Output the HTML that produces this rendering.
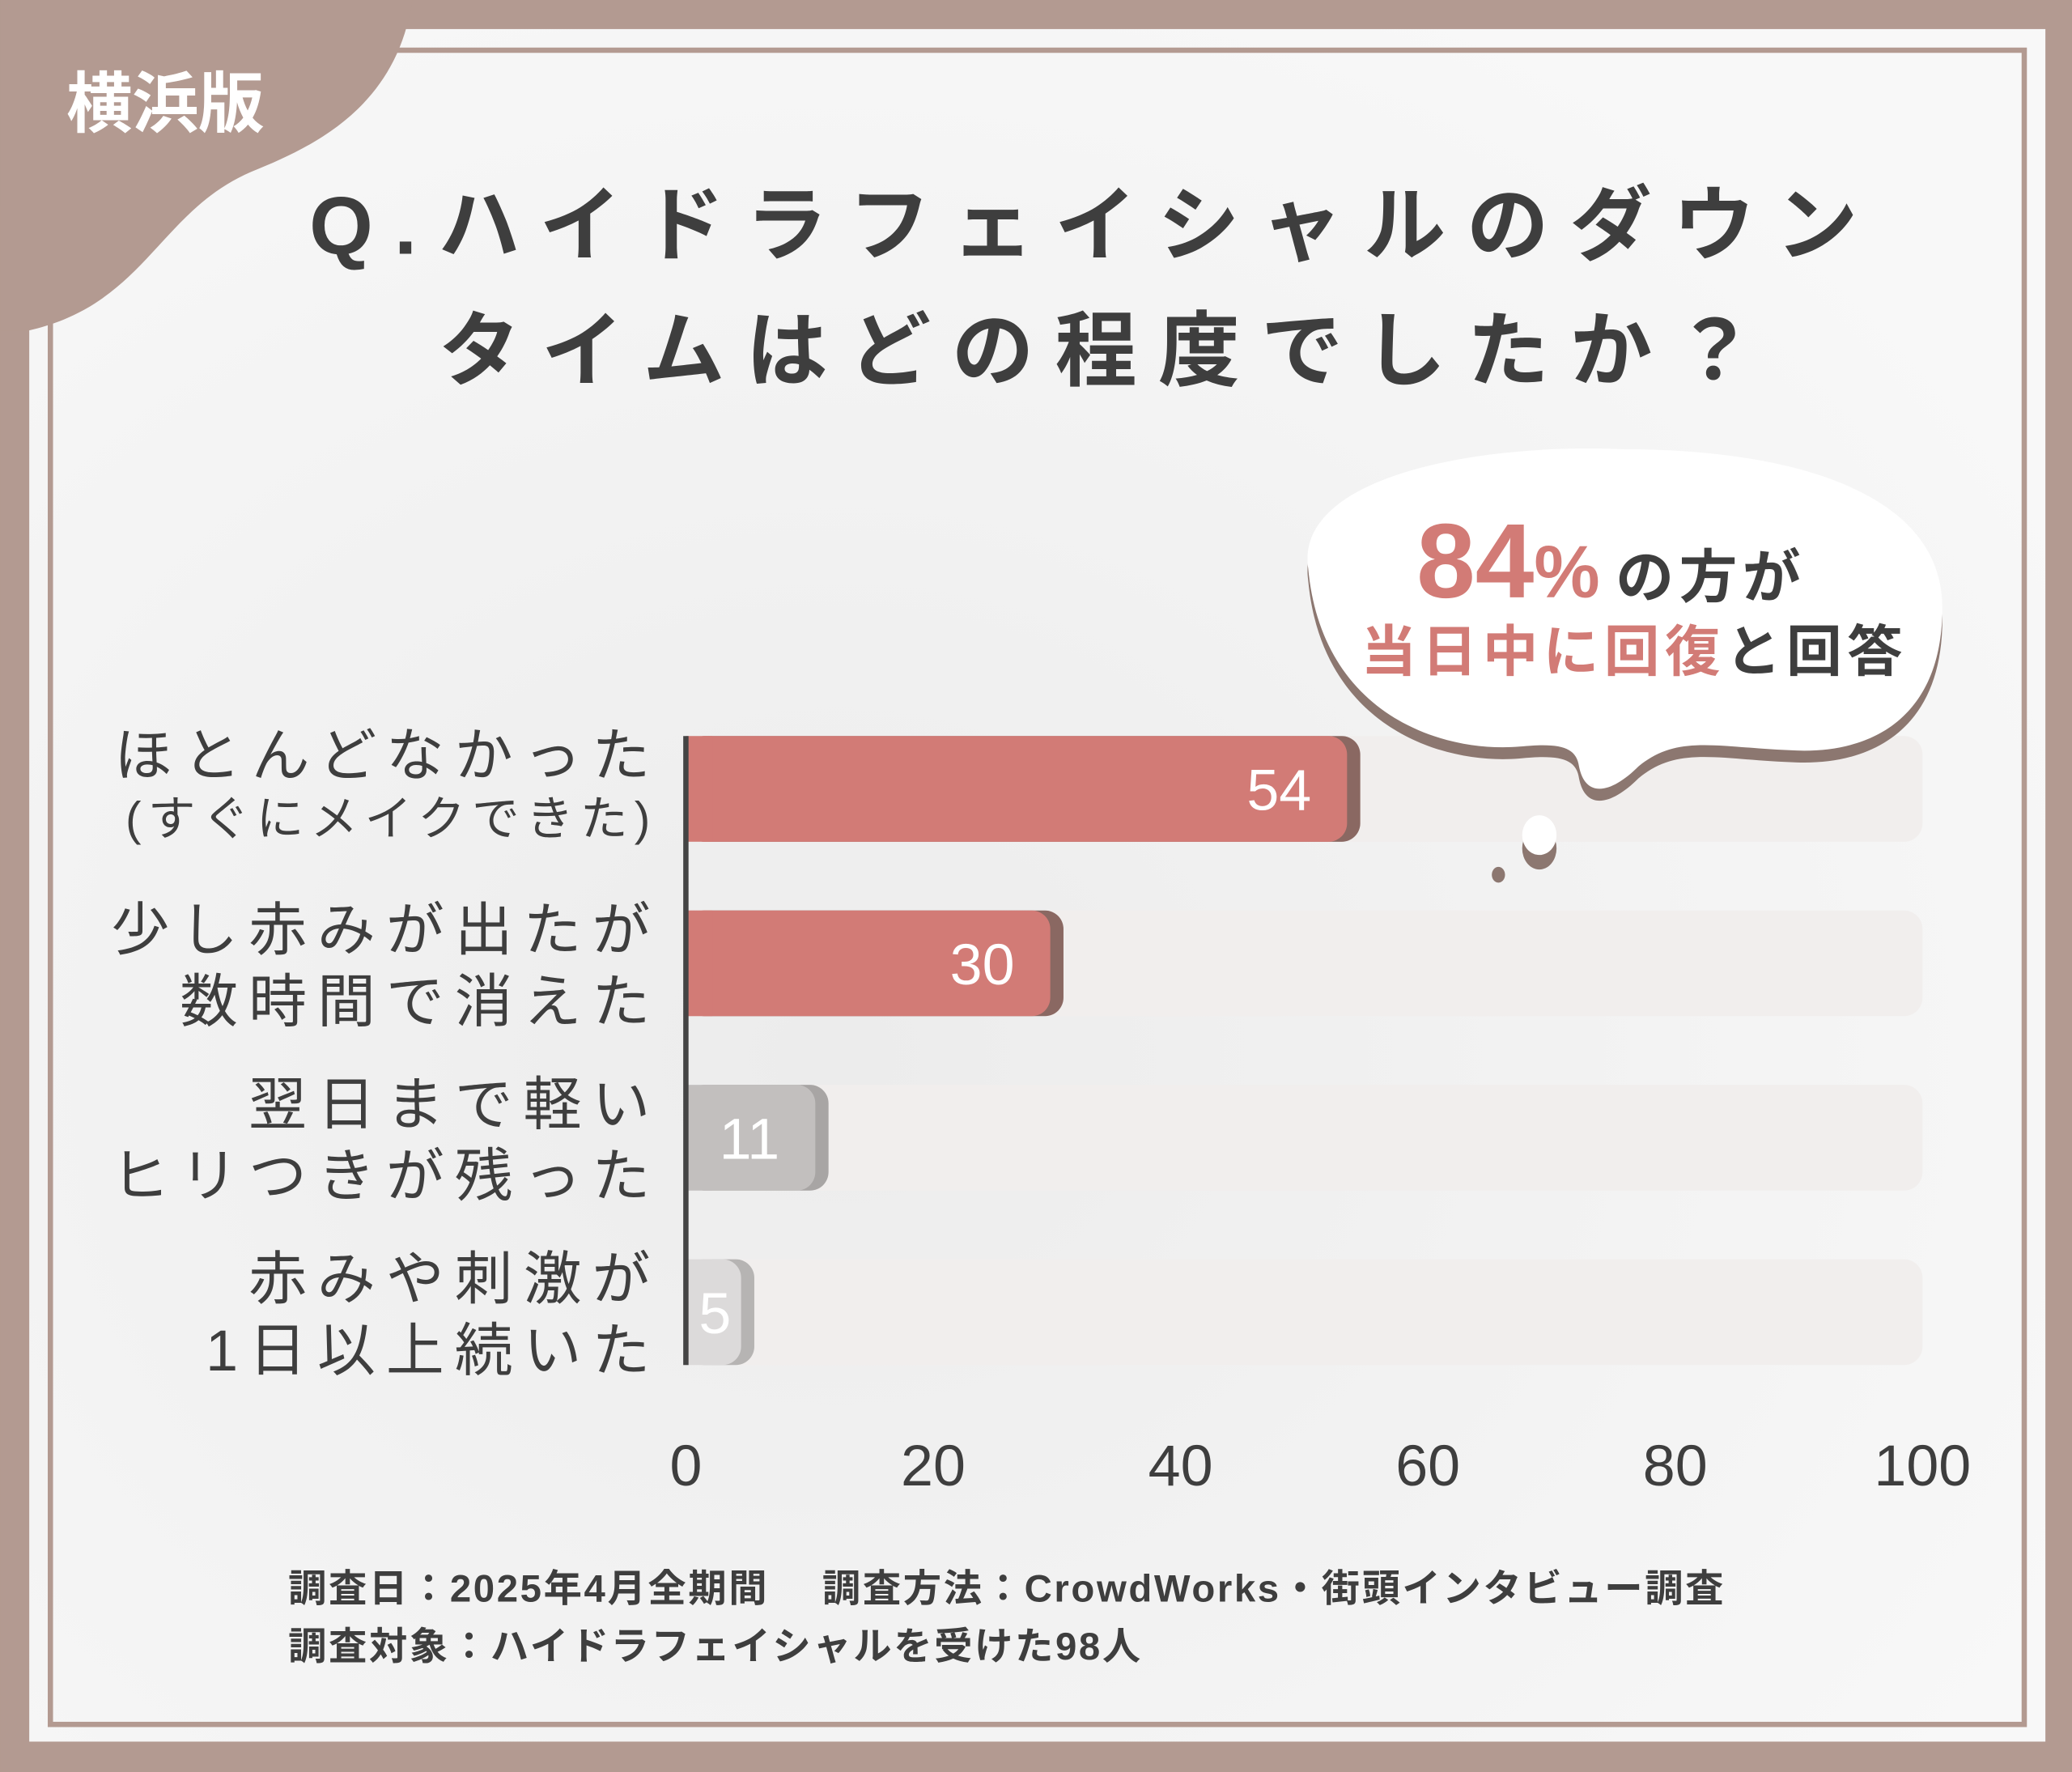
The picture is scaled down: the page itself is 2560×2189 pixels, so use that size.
<!DOCTYPE html>
<html><head><meta charset="utf-8"><style>
html,body{margin:0;padding:0;background:#b39a91;}
svg{display:block;}
text{font-family:"Liberation Sans","Noto Sans CJK JP",sans-serif;}
</style></head><body>
<svg width="2560" height="2189" viewBox="0 0 1568 1341" xmlns="http://www.w3.org/2000/svg">
<defs>
<radialGradient id="bg" cx="0.4" cy="0.6" r="0.7"><stop offset="0" stop-color="#ececec"/><stop offset="1" stop-color="#f8f8f8"/></radialGradient>
</defs>
<rect x="0" y="0" width="1568" height="1341" fill="#b39a91"/>
<rect x="22" y="22" width="1526" height="1296" fill="url(#bg)"/>
<rect x="38" y="38" width="1494" height="1267" fill="none" stroke="#b39a91" stroke-width="4"/>
<path d="M0 0 H312 C300 80 240 110 190 130 C120 160 110 230 22 250 H0 Z" fill="#b39a91"/>
<text x="125" y="96" font-size="50" font-weight="bold" fill="#fff" text-anchor="middle">横浜版</text>
<text x="828" y="192" font-size="62" font-weight="bold" fill="#3e3e3e" text-anchor="middle" letter-spacing="16">Q.ハイドラフェイシャルのダウン</text>
<text x="838" y="287" font-size="62" font-weight="bold" fill="#3e3e3e" text-anchor="middle" letter-spacing="16">タイムはどの程度でしたか？</text>
<g id="chart"></g>
<g>
<path transform="translate(0,9)" d="M990 430 C980 360 1120 335 1230 340 C1350 340 1470 370 1470 460 C1470 540 1420 570 1360 568 C1300 566 1270 555 1240 580 C1220 600 1200 605 1195 580 C1193 565 1180 562 1150 565 C1090 570 1000 540 990 430 Z" fill="#8c7770"/>
<path d="M990 430 C980 360 1120 335 1230 340 C1350 340 1470 370 1470 460 C1470 540 1420 570 1360 568 C1300 566 1270 555 1240 580 C1220 600 1200 605 1195 580 C1193 565 1180 562 1150 565 C1090 570 1000 540 990 430 Z" fill="#fff"/>
<ellipse cx="1165" cy="642" rx="13" ry="16" fill="#8c7770"/>
<ellipse cx="1165" cy="632" rx="13" ry="15" fill="#fff"/>
<ellipse cx="1134" cy="662" rx="5" ry="6" fill="#8c7770"/>
</g>
<text x="1072" y="452" font-size="80" font-weight="bold" fill="#d27b76">84<tspan font-size="56">%</tspan><tspan font-size="44" fill="#3e3e3e" dx="12" letter-spacing="4">の方が</tspan></text>
<text x="1030" y="508" font-size="42" font-weight="bold" fill="#d27b76" letter-spacing="4">当日中に回復<tspan fill="#3e3e3e">と回答</tspan></text>
<text x="218" y="1212" font-size="29" font-weight="bold" fill="#3e3e3e" letter-spacing="1.6">調査日：2025年4月全期間　 調査方法：CrowdWorks・街頭インタビュー調査</text>
<text x="218" y="1256" font-size="29" font-weight="bold" fill="#3e3e3e" letter-spacing="1.6">調査対象：ハイドラフェイシャルを受けた98人</text>
<script>
const categories1 = ["ほとんどなかった","少し赤みが出たが","翌日まで軽い","赤みや刺激が"];
const categories2 = ["(すぐにメイクできた)","数時間で消えた","ヒリつきが残った","1日以上続いた"];
const values = [54, 30, 11, 5];
const ticks = [0, 20, 40, 60, 80, 100];
const NS="http://www.w3.org/2000/svg";
const g=document.getElementById('chart');
const x0=519,x1=1455,rowTop=557,rowStep=132,barH=80;
const xs=v=>x0+(v/100)*(x1-x0);
const fills=["#d27b76","#d27b76","#c2bfbe","#dcdada"];
const shades=["#8a6862","#8a6862","#a8a5a4","#b6b4b3"];
function mk(tag,attrs){const e=document.createElementNS(NS,tag);for(const k in attrs)e.setAttribute(k,attrs[k]);g.appendChild(e);return e;}
values.forEach((v,i)=>{
 const y=rowTop+i*rowStep;
 const tr=mk('rect',{x:x0,y:y,width:x1-x0,height:barH,rx:14,fill:'#f1eeed'});
 
 
 const sh=mk('rect',{x:x0,y:y,width:Math.max(xs(v)+5-x0,10),height:barH,rx:14,fill:shades[i]});
 
 
 const b=mk('rect',{x:x0,y:y,width:Math.max(xs(v)-5-x0,6),height:barH,rx:14,fill:fills[i]});
 
 
 const fl=mk('rect',{x:x0,y:y,width:Math.min(20,Math.max(xs(v)-5-x0,6)),height:barH,fill:fills[i]});
 
 
 const vl=mk('text',{x:v<8?x0+22:xs(v)-32,y:y+56,'font-size':44,fill:'#fff','text-anchor':v<8?'middle':'end'});
 vl.textContent=v;
 
 
 const c1=mk('text',{x:500,y:y+30,'font-size':44,fill:'#3e3e3e','text-anchor':'end','letter-spacing':8});
 c1.textContent=categories1[i];
 
 
 const c2=mk('text',{x:i==0?497:500,y:y+(i==0?75:84),'font-size':i==0?36:44,fill:'#3e3e3e','text-anchor':'end','letter-spacing':i==0?5:8});
 c2.textContent=categories2[i];
 
 
});
const ax=mk('line',{x1:x0,y1:rowTop,x2:x0,y2:rowTop+3*rowStep+barH,stroke:'#444',"stroke-width":4});


ticks.forEach(t=>{
 const tl=mk('text',{x:xs(t),y:1124,'font-size':44,fill:'#3e3e3e','text-anchor':'middle'});
 tl.textContent=t;
 
 
});
</script>
</svg>
</body></html>
